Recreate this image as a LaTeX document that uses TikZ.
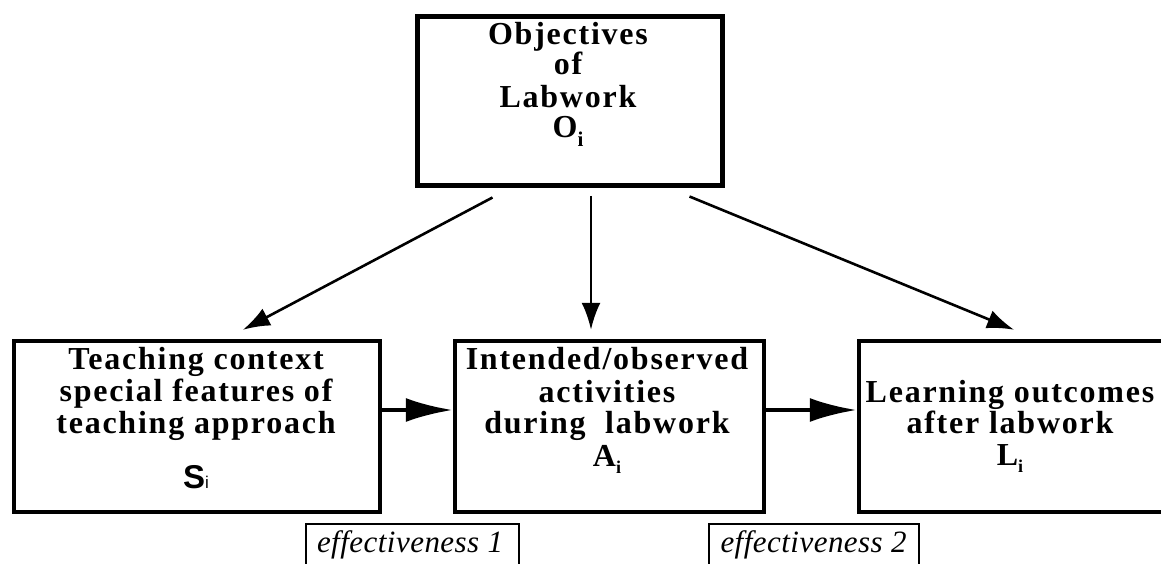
\documentclass[tikz,border=0pt]{standalone}
\usepackage{fontspec}
\setmainfont{Liberation Serif}
\newfontfamily\lsp{Liberation Serif}[LetterSpace=5.5]
\newfontfamily\lspit{Liberation Serif}[LetterSpace=1.5]
\newfontfamily\sansb{Liberation Sans}
\usetikzlibrary{arrows.meta}
\newcommand{\mysub}[2]{\raisebox{-#1}{\fontsize{#2}{#2}\selectfont i}}
\tikzset{
  bigbox/.style={draw, line width=4.5pt, inner sep=0pt, minimum width=#1},
  effbox/.style={draw, line width=2pt, inner sep=0pt},
  lbl/.style={anchor=base, inner sep=0pt, font=\lsp\bfseries\fontsize{32}{32}\selectfont},
  efflbl/.style={anchor=base, inner sep=0pt, font=\lspit\itshape\fontsize{31}{32}\selectfont},
  thinarrow/.style={line width=2.6pt, -{Latex[length=27pt,width=19pt]}},
  thickarrow/.style={line width=4.2pt, -{Latex[length=47pt,width=24pt]}}
}
\begin{document}
\begin{tikzpicture}[x=1pt,y=-1pt]
\clip (0,0) rectangle (1161,564);
\fill[white] (0,0) rectangle (1161,564);
% boxes
\node[bigbox=305pt, minimum height=169pt, line width=5pt] (obj) at (570,101) {};
\node[bigbox=366pt, minimum height=171pt] (S) at (197,426.5) {};
\node[bigbox=309pt, minimum height=171pt] (A) at (609.5,426.5) {};
\node[bigbox=306pt, minimum height=171pt] (L) at (1012,426.5) {};
\node[effbox, minimum width=213pt, minimum height=56pt] (e1) at (412.5,552) {};
\node[effbox, minimum width=210pt, minimum height=56pt] (e2) at (814,552) {};
% top text
\node[lbl] (o1) at (568,45) {Objectives};
\node[lbl] (o2) at (568,75) {of};
\node[lbl] (o3) at (568,108) {Labwork};
\node[lbl] (o4) at (568,138) {O\mysub{9pt}{21}};
% S text
\node[lbl] (s1) at (196,369) {Teaching context};
\node[lbl] (s2) at (196,401) {special features of};
\node[lbl] (s3) at (196,433) {teaching approach};
\node[anchor=base, inner sep=0pt] (s4) at (196,488) {\sansb\bfseries\fontsize{33}{33}\selectfont S\mdseries\fontsize{17}{17}\selectfont i};
% A text
\node[lbl] (a1) at (607,369) {Intended/observed};
\node[lbl] (a2) at (607,402) {activities};
\node[lbl] (a3) at (607,433) {during\ \ labwork};
\node[lbl] (a4) at (607,466) {A\mysub{7pt}{18}};
% L text
\node[lbl] (l1) at (1010,402) {Learning outcomes};
\node[lbl] (l2) at (1010,433) {after labwork};
\node[lbl] (l3) at (1010,465) {L\mysub{7pt}{18}};
% effectiveness
\node[efflbl] (t1) at (410,552) {effectiveness 1};
\node[efflbl] (t2) at (813.5,552) {effectiveness 2};
% arrows
\draw[thinarrow] ([xshift=77.5pt,yshift=-9.5pt]obj.south west) -- ([xshift=46pt,yshift=9pt]S.north);
\draw[thinarrow] ([xshift=21pt,yshift=-8pt]obj.south) -- ([xshift=-18.5pt,yshift=9pt]A.north);
\draw[thinarrow] ([xshift=-35.5pt,yshift=-8.5pt]obj.south east) -- ([xshift=2pt,yshift=9pt]L.north);
\draw[thickarrow] ([yshift=16.5pt]S.east) -- ([yshift=16.5pt]A.west);
\draw[thickarrow] ([yshift=16.5pt]A.east) -- ([yshift=16.5pt]L.west);
\end{tikzpicture}
\end{document}
